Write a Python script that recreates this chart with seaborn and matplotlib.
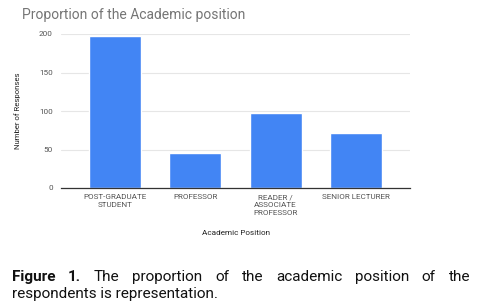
import matplotlib
matplotlib.use("Agg")
import matplotlib.pyplot as plt
import seaborn as sns
import pandas as pd

categories = ["POST-GRADUATE\nSTUDENT", "PROFESSOR", "READER /\nASSOCIATE\nPROFESSOR", "SENIOR LECTURER"]
values = [197, 45, 98, 71]
yticks = [0, 50, 100, 150, 200]

sns.set_theme(style="white")
plt.rcParams['font.family'] = ['Roboto', 'DejaVu Sans']

df = pd.DataFrame({"cat": categories, "val": values})

W, H = 478, 304
fig = plt.figure(figsize=(W/100, H/100), dpi=100)
ax = fig.add_axes([61/W, 1-188/H, (410-61)/W, (188-34)/H])
sns.barplot(data=df, x="cat", y="val", color="#4285F4", width=0.65, ax=ax, saturation=1)
ax.set_xlim(-0.675, 3.675)
ax.set_ylim(0, 200)
ax.set_yticks(yticks)
ax.set_xticks(range(len(categories)), labels=categories, linespacing=1.4)
ax.yaxis.grid(True, color="#e6e6e6", linewidth=0.8)
ax.set_axisbelow(True)
for s in ["top", "right", "left"]:
    ax.spines[s].set_visible(False)
ax.spines["bottom"].set_color("#333333")
ax.spines["bottom"].set_linewidth(0.9)
ax.tick_params(axis="both", length=0, labelsize=5.9, colors="#555555")
ax.tick_params(axis="y", pad=6)
ax.tick_params(axis="x", pad=4.5)
ax.set_xlabel("Academic Position", fontsize=5.9, color="#222222", labelpad=10)
ax.set_ylabel("Number of Responses", fontsize=5.6, color="#222222", labelpad=13)

fig.text(22/W, 1-15/H, "Proportion of the Academic position", fontsize=10, color="#757575", va="center", ha="left")

# justified caption
fig.canvas.draw()
r = fig.canvas.get_renderer()
words = [("Figure", "bold"), ("1.", "bold"), ("The", "normal"), ("proportion", "normal"), ("of", "normal"),
         ("the", "normal"), ("academic", "normal"), ("position", "normal"), ("of", "normal"), ("the", "normal")]
x0, x1 = 12, 470
arts = []
total = 0
for w, wt in words:
    t = fig.text(0, 1-277/H, w, fontsize=11, fontweight=wt, color="#111111", va="center", ha="left")
    bb = t.get_window_extent(renderer=r)
    arts.append((t, bb.width))
    total += bb.width
gap = ((x1 - x0) - total) / (len(words) - 1)
x = x0
for t, wd in arts:
    t.set_x(x / W)
    x += wd + gap
fig.text(x0/W, 1-294/H, "respondents is representation.", fontsize=11, color="#111111", va="center", ha="left")

fig.savefig("out.png", dpi=100)
